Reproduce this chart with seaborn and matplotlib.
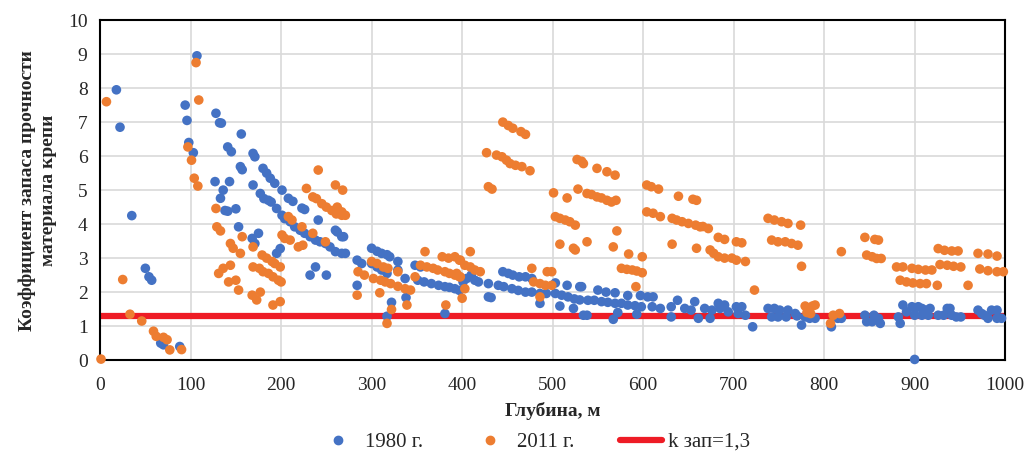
import pandas as pd
import matplotlib
matplotlib.use('Agg')
import matplotlib.pyplot as plt
import seaborn as sns
from matplotlib.lines import Line2D


######
# Data
######
# (depth, m ; safety factor)
data_1980 = [
    (18, 7.95), (22, 6.85), (35, 4.25), (50, 2.7), (54, 2.45), (57, 2.35), (67, 0.5), (70, 0.45), (88, 0.4),
    (94, 7.5), (96, 7.05), (98, 6.4), (103, 6.1), (107, 8.95),
    (128, 7.26), (132, 6.98), (134, 6.97), (156, 6.65), (141, 6.27), (145, 6.13), (169, 6.08), (171, 5.98),
    (155, 5.69), (157, 5.6), (180, 5.64), (184, 5.5), (188, 5.35), (193, 5.2), (201, 5.0), (208, 4.76),
    (213, 4.67), (223, 4.47), (226, 4.43),
    (127, 5.25), (133, 4.76), (136, 5.0), (143, 5.25), (141, 4.38), (150, 4.45), (153, 3.92), (138, 4.4),
    (169, 5.15), (177, 4.9), (181, 4.75), (186, 4.7), (189, 4.65), (195, 4.46), (201, 4.26), (204, 4.16),
    (210, 4.07), (215, 3.92), (221, 3.82), (226, 3.73), (232, 3.63), (238, 3.53), (243, 3.48), (249, 3.43),
    (254, 3.33), (260, 3.19), (267, 3.14),
    (168, 3.58), (175, 3.73), (171, 3.43), (195, 3.14), (199, 3.28), (238, 2.74), (232, 2.5), (250, 2.5),
    (241, 4.12), (260, 3.82), (267, 3.63),
    (262, 3.77), (269, 3.63), (271, 3.14), (284, 2.94), (289, 2.84), (284, 2.2),
    (300, 3.29), (306, 3.2), (311, 3.14), (317, 3.1), (320, 3.04), (329, 2.9), (300, 2.84), (306, 2.74),
    (311, 2.65), (317, 2.55), (322, 1.7), (317, 1.29), (329, 2.65), (337, 2.4), (338, 1.84),
    (348, 2.79), (354, 2.74), (351, 2.35), (358, 2.3), (366, 2.25), (374, 2.2), (381, 2.16), (386, 2.14),
    (392, 2.1), (397, 2.05), (381, 1.37), (401, 2.3),
    (405, 2.4), (410, 2.5), (414, 2.35), (418, 2.3), (429, 2.25), (429, 1.86), (432, 1.84),
    (445, 2.6), (451, 2.55), (456, 2.5), (463, 2.45), (470, 2.45), (477, 2.4), (440, 2.2), (446, 2.16),
    (455, 2.1), (462, 2.05), (470, 2.0), (477, 2.0), (486, 1.96), (493, 1.96), (503, 2.27), (503, 1.96),
    (510, 1.91), (516, 2.2), (517, 1.86), (524, 1.8), (530, 2.16), (530, 1.77), (486, 1.67), (508, 1.59),
    (523, 1.52), (534, 1.32),
    (532, 2.16), (539, 1.76), (550, 2.06), (559, 2.0), (569, 1.98), (546, 1.76), (554, 1.72), (561, 1.7),
    (569, 1.67), (576, 1.67), (583, 1.9), (583, 1.62), (591, 1.6), (598, 1.57), (597, 1.9), (605, 1.86),
    (611, 1.86), (610, 1.57), (619, 1.52), (538, 1.32), (567, 1.2), (572, 1.4), (593, 1.35),
    (631, 1.57), (638, 1.76), (631, 1.27), (646, 1.52), (653, 1.47), (657, 1.72), (661, 1.23),
    (668, 1.52), (676, 1.47), (674, 1.23), (683, 1.67), (690, 1.62), (685, 1.52), (694, 1.42), (703, 1.57),
    (709, 1.57), (705, 1.37), (713, 1.32), (721, 0.98),
    (738, 1.52), (745, 1.52), (751, 1.47), (742, 1.27), (749, 1.27), (760, 1.47), (758, 1.27), (768, 1.37),
    (770, 1.3), (775, 1.03), (779, 1.27), (784, 1.23), (790, 1.23),
    (808, 0.98), (815, 1.23), (819, 1.23), (845, 1.32), (847, 1.13), (853, 1.13), (855, 1.32), (860, 1.23),
    (862, 1.08),
    (882, 1.27), (884, 1.08), (887, 1.62), (891, 1.42), (897, 1.57), (900, 1.52), (904, 1.57), (908, 1.52),
    (912, 1.47), (917, 1.52), (900, 1.32), (908, 1.32), (915, 1.32), (900, 0.02), (926, 1.32), (932, 1.32),
    (936, 1.52), (939, 1.52), (941, 1.32), (946, 1.27), (951, 1.27),
    (970, 1.47), (974, 1.37), (977, 1.32), (981, 1.23), (985, 1.47), (991, 1.47), (991, 1.23), (996, 1.23),
]

data_2011 = [
    (1, 0.03), (7, 7.6), (25, 2.37), (33, 1.35), (46, 1.15), (59, 0.85), (62, 0.7), (70, 0.67), (74, 0.6),
    (77, 0.3), (90, 0.31),
    (97, 6.27), (101, 5.88), (104, 5.35), (106, 8.75), (108, 5.12), (109, 7.65),
    (128, 4.46), (129, 3.92), (133, 3.8), (131, 2.55), (136, 2.7), (144, 3.43), (147, 3.29), (155, 3.14),
    (157, 3.63), (144, 2.79), (142, 2.3), (150, 2.35), (153, 2.06), (168, 1.91), (173, 1.77), (177, 2.0),
    (169, 3.33), (169, 2.74),
    (179, 3.09), (184, 3.0), (190, 2.9), (193, 2.84), (199, 2.74), (176, 2.7), (180, 2.6), (186, 2.55),
    (191, 2.45), (197, 2.35), (200, 2.3), (191, 1.62), (199, 1.72),
    (201, 3.68), (204, 3.58), (210, 3.53), (208, 4.22), (212, 4.12), (219, 3.33), (224, 3.38), (223, 3.92),
    (228, 5.05), (235, 4.8), (239, 4.75), (245, 4.6), (250, 4.5), (256, 4.4), (261, 4.3), (267, 4.26),
    (241, 5.59), (260, 5.15), (268, 5.0), (235, 3.73), (249, 3.48), (262, 4.5), (267, 4.36), (271, 4.26),
    (285, 2.6), (292, 2.5), (284, 1.91), (300, 2.9), (306, 2.84), (313, 2.74), (318, 2.7), (302, 2.4),
    (310, 2.35), (315, 2.3), (321, 2.25), (309, 1.98), (322, 1.49), (317, 1.08), (329, 2.6), (329, 2.17),
    (337, 2.1), (343, 2.06), (339, 1.62), (348, 2.45),
    (354, 2.79), (359, 3.19), (361, 2.74), (368, 2.7), (373, 2.65), (378, 3.04), (385, 3.0), (392, 3.04),
    (397, 2.94), (381, 2.6), (386, 2.55), (392, 2.5), (397, 2.45), (382, 1.62), (400, 1.82),
    (398, 2.94), (409, 3.19), (394, 2.55), (398, 2.45), (403, 2.79), (409, 2.74), (414, 2.65), (420, 2.6),
    (403, 2.1),
    (427, 6.1), (429, 5.1), (433, 5.03), (445, 7.0), (451, 6.9), (456, 6.82), (465, 6.72), (470, 6.64),
    (438, 6.03), (444, 5.98), (449, 5.88), (453, 5.78), (459, 5.73), (466, 5.69), (475, 5.57),
    (477, 2.7), (479, 2.3), (486, 2.25), (494, 2.6), (499, 2.6), (492, 2.2), (499, 2.2), (486, 1.86),
    (501, 4.92), (516, 4.77), (503, 4.22), (508, 4.17), (514, 4.12), (519, 4.07), (525, 3.97), (508, 3.41),
    (523, 3.29), (527, 5.9), (532, 5.85), (528, 5.03),
    (534, 5.78), (549, 5.64), (560, 5.54), (569, 5.44), (538, 4.9), (543, 4.87), (549, 4.8), (554, 4.77),
    (560, 4.7), (565, 4.65), (570, 4.7), (538, 3.48), (571, 3.8), (567, 3.33), (525, 3.24), (584, 3.12),
    (599, 3.04), (576, 2.7), (582, 2.67), (588, 2.65), (593, 2.62), (599, 2.57), (592, 2.16),
    (604, 5.15), (609, 5.1), (617, 5.03), (604, 4.36), (611, 4.32), (619, 4.22), (632, 4.17), (637, 4.12),
    (643, 4.07), (650, 4.02), (658, 3.97), (663, 3.92), (639, 4.82), (655, 4.73), (632, 3.41), (659, 3.29),
    (659, 4.7), (666, 3.93), (672, 3.87), (674, 3.24), (678, 3.14), (683, 3.04), (690, 3.0), (698, 3.0),
    (703, 2.94), (713, 2.9), (683, 3.61), (690, 3.55), (703, 3.48), (709, 3.45), (723, 2.06),
    (738, 4.17), (745, 4.12), (753, 4.07), (760, 4.02), (774, 3.97), (742, 3.53), (749, 3.48), (757, 3.48),
    (764, 3.43), (771, 3.38), (775, 2.76), (779, 1.59), (787, 1.59), (781, 1.4), (785, 1.37),
    (790, 1.62), (810, 1.32), (817, 1.37), (807, 1.08), (819, 3.19), (845, 3.61), (856, 3.55), (860, 3.53),
    (847, 3.09), (853, 3.04), (858, 2.99), (863, 2.99),
    (880, 2.74), (887, 2.74), (897, 2.7), (904, 2.67), (912, 2.65), (919, 2.65), (884, 2.35), (891, 2.3),
    (898, 2.27), (906, 2.25), (913, 2.25), (925, 2.2), (926, 3.28), (933, 3.23), (941, 3.21), (948, 3.21),
    (928, 2.81), (936, 2.79), (943, 2.76), (951, 2.74), (959, 2.2),
    (970, 3.14), (981, 3.12), (991, 3.06), (972, 2.68), (981, 2.63), (991, 2.6), (998, 2.6),
]

years = ['1980 г.', '2011 г.']
K_ZAP = 1.3
k_label = 'k зап=1,3'
xlabel = 'Глубина, м'
ylabel = 'Коэффициент запаса прочности\nматериала крепи'

colors = {'1980 г.': '#4472C4', '2011 г.': '#ED7D31'}
line_color = '#EE1C25'


###########
# DataFrame
###########
df = pd.concat([
    pd.DataFrame(data_1980, columns=['depth', 'k']).assign(year=years[0]),
    pd.DataFrame(data_2011, columns=['depth', 'k']).assign(year=years[1]),
])


######
# Plot
######
sns.set_style('white')
plt.rcParams['font.family'] = ['Liberation Serif', 'DejaVu Serif']

fig, ax = plt.subplots(figsize=(10.32, 4.57), dpi=100)
fig.subplots_adjust(left=0.097, right=0.974, top=0.956, bottom=0.212)

sns.scatterplot(data=df, x='depth', y='k', hue='year', hue_order=years, palette=colors,
                s=48, linewidth=0, alpha=1, ax=ax, legend=False, zorder=3, clip_on=False)
ax.axhline(K_ZAP, color=line_color, lw=4.5, zorder=2)

ax.set_xlim(0, 1000)
ax.set_ylim(0, 10)
ax.set_xticks(range(0, 1001, 100))
ax.set_yticks(range(0, 11))
ax.grid(True, color='#d9d9d9', lw=1.2, zorder=0)
ax.set_axisbelow(True)
for sp in ax.spines.values():
    sp.set_color('black')
    sp.set_linewidth(1.5)
ax.tick_params(axis='both', length=0, labelsize=14)
ax.tick_params(axis='x', pad=12)
ax.tick_params(axis='y', pad=9)

ax.set_xlabel(xlabel, fontsize=14, fontweight='bold', labelpad=6)
ax.set_ylabel(ylabel, fontsize=14, fontweight='bold', labelpad=8, linespacing=1.3)

handles = [
    Line2D([], [], ls='', marker='o', ms=6, color=colors[years[0]]),
    Line2D([], [], ls='', marker='o', ms=6, color=colors[years[1]]),
    Line2D([], [], color=line_color, lw=4.5),
]
fig.legend(handles, [years[0], years[1], k_label], loc='lower center', ncol=3, frameon=False,
           bbox_to_anchor=(0.517, -0.03), fontsize=15, handlelength=2.0, columnspacing=2.2,
           handletextpad=0.3)

fig.savefig('out.png', dpi=100)
